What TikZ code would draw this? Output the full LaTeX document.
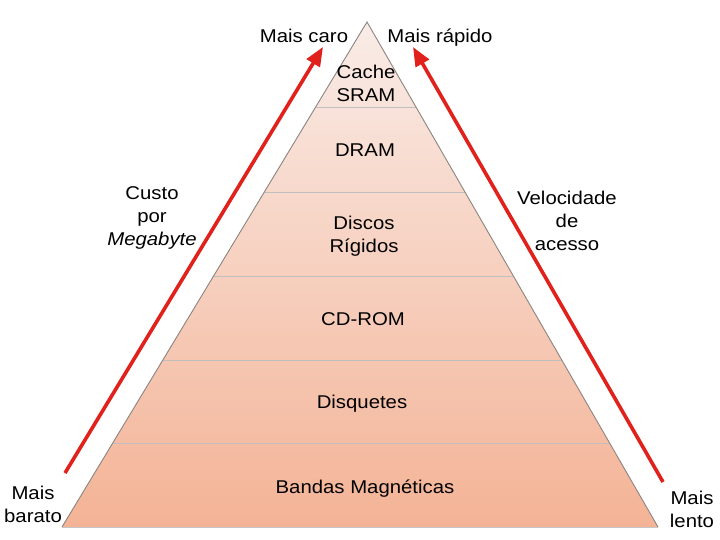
\documentclass[tikz,border=0pt]{standalone}
\usepackage{fontspec}
\setmainfont[FakeStretch=1.1]{Liberation Sans}
\usetikzlibrary{arrows.meta}
\definecolor{arrred}{HTML}{E0211C}
\definecolor{pyrtop}{HTML}{F9ECE7}
\definecolor{pyrbot}{HTML}{F4B396}
\definecolor{edgegray}{HTML}{8C8480}
\tikzset{
  lbl/.style={font=\fontsize{18.5}{23}\selectfont, align=center, inner sep=0pt, anchor=base},
  layer/.style={lbl},
  sep/.style={draw=gray!50, line width=0.8pt},
  redarrow/.style={draw=arrred, line width=3.6pt, -{Triangle[length=19pt,width=15pt]}}
}
\begin{document}
\begin{tikzpicture}[x=1pt,y=-1pt]
\useasboundingbox (0,0) rectangle (720,540);
\fill[white] (0,0) rectangle (720,540);
% pyramid
\coordinate (apex) at (367,22);
\coordinate (bl) at (62,527);
\coordinate (br) at (658,527);
\path[top color=pyrtop, bottom color=pyrbot] (apex) -- (br) -- (bl) -- cycle;
% separators
\foreach \y/\n in {107/a,192/b,276/c,360/d,443/e}{
  \coordinate (L\n) at ({367-0.60396*(\y-22)},\y);
  \coordinate (R\n) at ({367+0.57624*(\y-22)},\y);
  \draw[sep] (L\n) -- (R\n);
}
\draw[edgegray, line width=0.9pt, line join=miter] (bl) -- (apex) -- (br);
\draw[gray!45, line width=0.9pt] (bl) -- (br);
% layer labels (base = last line)
\node[layer] (cache) at (366,102) {Cache\\SRAM};
\node[layer] (dram) at (365,157) {DRAM};
\node[layer] (discos) at (364,252) {Discos\\Rígidos};
\node[layer] (cdrom) at (363,325) {CD-ROM};
\node[layer] (disq) at (362,408) {Disquetes};
\node[layer] (bandas) at (365,493) {Bandas Magnéticas};
% side labels
\node[lbl] (caro) at (304,43) {Mais caro};
\node[lbl] (rapido) at (440,43) {Mais rápido};
\node[lbl] (custo) at (152,245) {Custo\\por\\\textit{Megabyte}};
\node[lbl] (veloc) at (567,250) {Velocidade\\de\\acesso};
\node[lbl] (barato) at (33,522) {Mais\\barato};
\node[lbl] (lento) at (692,527) {Mais\\lento};
% arrows
\coordinate (la) at (65,473);
\coordinate (lb) at (323,47);
\coordinate (ra) at (663,482);
\coordinate (rb) at (413,47);
\draw[redarrow] (la) -- (lb);
\draw[redarrow] (ra) -- (rb);
\end{tikzpicture}
\end{document}
